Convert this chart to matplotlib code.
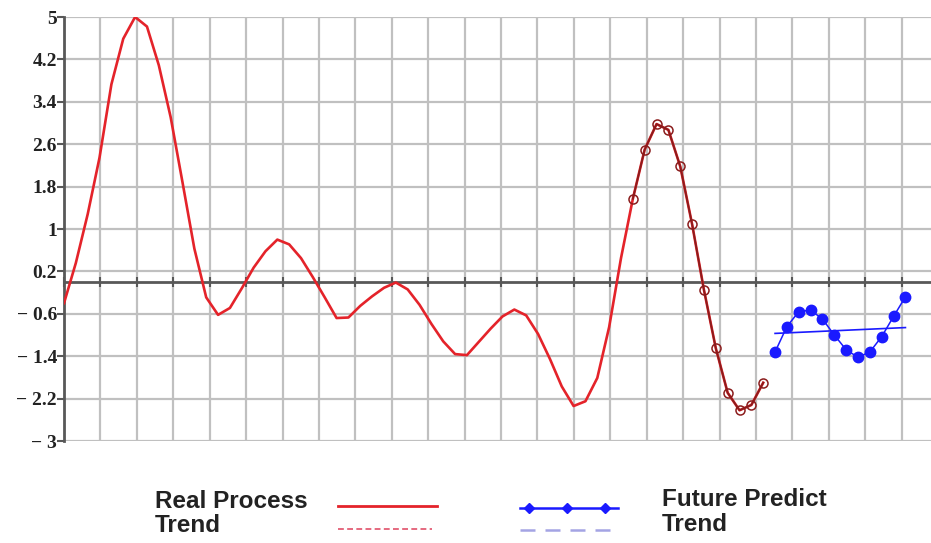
import matplotlib
matplotlib.use("Agg")
import matplotlib.pyplot as plt
import matplotlib.transforms as mtransforms
import numpy as np
from matplotlib.lines import Line2D
from matplotlib.ticker import MultipleLocator

# --- dane (probki co 1 krok, krok = STEP jednostek siatki) ---
STEP = 0.3254

real = [-0.40, 0.36, 1.28, 2.35, 3.73, 4.59, 5.00, 4.82, 4.09, 3.11,
        1.88, 0.63, -0.29, -0.62, -0.49, -0.12, 0.27, 0.58, 0.80, 0.71,
        0.45, 0.09, -0.29, -0.68, -0.67, -0.45, -0.27, -0.11, -0.01, -0.14,
        -0.43, -0.79, -1.12, -1.36, -1.38, -1.13, -0.88, -0.65, -0.52, -0.63,
        -0.98, -1.45, -1.97, -2.34, -2.25, -1.81, -0.85, 0.45, 1.57, 2.50,
        2.98, 2.87, 2.18, 1.09, -0.15, -1.25, -2.09, -2.42, -2.32, -1.90]
fit_start = 48  # od tej probki kolka

future = [-1.32, -0.84, -0.56, -0.53, -0.70, -1.00, -1.28, -1.42, -1.32,
          -1.03, -0.65, -0.28]
future_trend_t = [60, 71]
future_trend = [-0.97, -0.86]

yticks = [5, 4.2, 3.4, 2.6, 1.8, 1, 0.2, -0.6, -1.4, -2.2, -3]
ylabels = ["5", "4.2", "3.4", "2.6", "1.8", "1", "0.2",
           "\u2212 0.6", "\u2212 1.4", "\u2212 2.2", "\u2212 3"]

RED = "#e4232a"
DARK = "#8a1c1c"
BLUE = "#1a1aff"
GRID = "#c0c0c0"
AXIS = "#585858"

W, H = 931, 543
fig = plt.figure(figsize=(W / 100, H / 100), dpi=100)
ax = fig.add_axes([64 / W, 102 / H, (W - 64) / W, 424 / H])

t_real = np.arange(len(real))
t_fut = np.arange(len(real), len(real) + len(future))

ax.plot(t_real * STEP, real, color=RED, lw=1.9, zorder=4)
ax.plot(t_real[fit_start:] * STEP, real[fit_start:], color=DARK, lw=1.3,
        marker="o", ms=6.5, mfc="none", mec=DARK, mew=1.1, zorder=5)

ax.plot(t_fut * STEP, future, color=BLUE, lw=1.1, marker="o", ms=7.5,
        mfc=BLUE, mec=BLUE, zorder=5)
ax.plot(np.array(future_trend_t) * STEP, future_trend, color=BLUE, lw=1.2,
        zorder=4)

ax.set_xlim(0, (W - 64) / 36.42)
ax.set_ylim(-3, 5)

# siatka
ax.xaxis.set_major_locator(MultipleLocator(1))
ax.set_yticks(yticks)
ax.set_yticklabels(ylabels, family="Liberation Serif", fontweight="bold",
                   fontsize=14, color="#222222")
shift = mtransforms.ScaledTranslation(0, -2 / 100, fig.dpi_scale_trans)
for lab in ax.get_yticklabels():
    lab.set_transform(lab.get_transform() + shift)
ax.grid(True, color=GRID, lw=1.6, zorder=0)
ax.set_axisbelow(True)

for s in ["top", "right"]:
    ax.spines[s].set_visible(False)
ax.spines["left"].set_color(AXIS)
ax.spines["left"].set_linewidth(2)
ax.spines["bottom"].set_position(("data", 0))
ax.spines["bottom"].set_color(AXIS)
ax.spines["bottom"].set_linewidth(2)
ax.tick_params(axis="x", direction="inout", length=7, width=1.5,
               color=AXIS, labelbottom=False)
ax.tick_params(axis="y", direction="out", length=5, width=1.5,
               color=AXIS, pad=0)

# --- legenda (rysowana recznie) ---
def fx(px):
    return px / W

def fy(py):
    return 1 - py / H

txt = dict(family="Liberation Sans", fontweight="bold", fontsize=17.5,
           color="#222222", va="baseline", ha="left")
fig.text(fx(155), fy(508), "Real Process", **txt)
fig.text(fx(155), fy(532), "Trend", **txt)
fig.text(fx(662), fy(506), "Future Predict", **txt)
fig.text(fx(662), fy(531), "Trend", **txt)

fig.add_artist(Line2D([fx(338), fx(437)], [fy(505.5), fy(505.5)],
                      color=RED, lw=2))
fig.add_artist(Line2D([fx(338), fx(432)], [fy(528.5), fy(528.5)],
                      color="#e0506a", lw=1.2, ls=(0, (3.5, 2))))
fig.add_artist(Line2D([fx(520), fx(618)], [fy(507.5), fy(507.5)],
                      color=BLUE, lw=1.8))
fig.add_artist(Line2D([fx(529), fx(567), fx(605)],
                      [fy(507.5)] * 3, color=BLUE, lw=0, marker="D",
                      ms=5, mfc=BLUE, mec=BLUE))
fig.add_artist(Line2D([fx(520), fx(618)], [fy(530), fy(530)],
                      color="#a4a4e4", lw=1.8, ls=(0, (6, 4))))

fig.savefig("out.png", dpi=100, facecolor="white")
